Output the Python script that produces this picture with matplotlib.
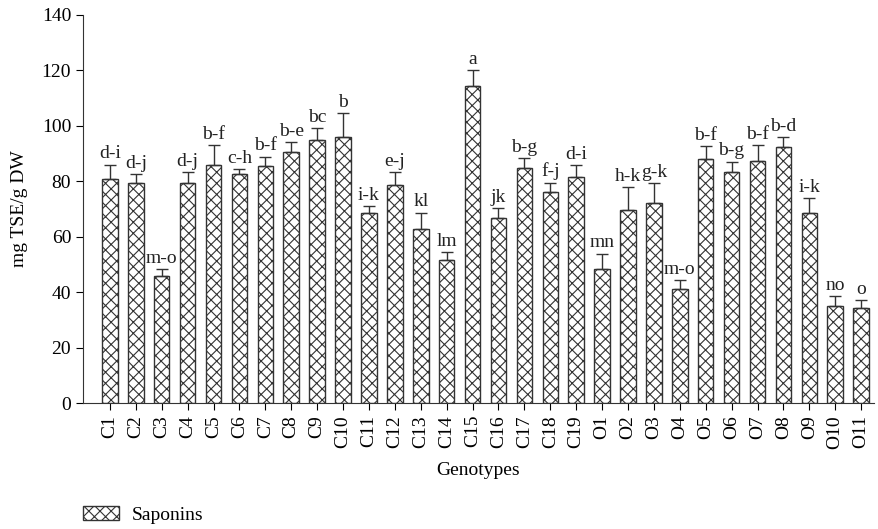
import numpy as np
import matplotlib
matplotlib.use("Agg")
import matplotlib.pyplot as plt
from matplotlib.patches import Patch

plt.rcParams['font.family'] = ['Liberation Serif', 'DejaVu Serif']
plt.rcParams['hatch.linewidth'] = 0.8

# Saponin content per genotype (mg TSE/g DW)
genotypes = ['C1', 'C2', 'C3', 'C4', 'C5', 'C6', 'C7', 'C8', 'C9', 'C10',
             'C11', 'C12', 'C13', 'C14', 'C15', 'C16', 'C17', 'C18', 'C19',
             'O1', 'O2', 'O3', 'O4', 'O5', 'O6', 'O7', 'O8', 'O9', 'O10', 'O11']
saponins = [80.7, 79.2, 45.8, 79.2, 85.9, 82.6, 85.6, 90.6, 95.0, 96.0,
            68.4, 78.5, 62.7, 51.7, 114.4, 66.8, 84.8, 76.1, 81.5,
            48.5, 69.6, 72.1, 41.2, 88.1, 83.4, 87.4, 92.5, 68.7, 35.1, 34.4]
errors = [5.3, 3.5, 2.6, 4.0, 7.0, 1.8, 3.3, 3.5, 4.2, 8.6,
          2.5, 4.8, 6.0, 2.8, 5.6, 3.5, 3.5, 3.4, 4.3,
          5.4, 8.4, 7.2, 3.1, 4.5, 3.7, 5.7, 3.4, 5.2, 3.5, 2.8]
letters = ['d-i', 'd-j', 'm-o', 'd-j', 'b-f', 'c-h', 'b-f', 'b-e', 'bc', 'b',
           'i-k', 'e-j', 'kl', 'lm', 'a', 'jk', 'b-g', 'f-j', 'd-i',
           'mn', 'h-k', 'g-k', 'm-o', 'b-f', 'b-g', 'b-f', 'b-d', 'i-k', 'no', 'o']

x = np.arange(len(genotypes))
fs = 14

fig = plt.figure(figsize=(8.79, 5.29), dpi=100)
ax = fig.add_axes([0.0944, 0.238, 0.9, 0.734])

ax.bar(x, saponins, width=0.6, color='white', edgecolor='#333333',
       linewidth=1.0, hatch='xxx')
ax.errorbar(x, saponins, yerr=[np.zeros(len(x)), errors], fmt='none',
            ecolor='#333333', elinewidth=1.0, capsize=4, capthick=1.0)

for xi, v, e, lab in zip(x, saponins, errors, letters):
    ax.text(xi, v + e + 0.8, lab, ha='center', va='bottom', fontsize=fs,
            color='#222222')

ax.set_xlim(-1.04, 29.5)
ax.set_ylim(0, 140)
ax.set_yticks(range(0, 141, 20))
ax.set_xticks(x)
ax.set_xticklabels(genotypes, rotation=90, fontsize=fs)
ax.tick_params(axis='y', labelsize=fs, direction='out', length=5)
ax.tick_params(axis='x', direction='out', length=5)
ax.set_ylabel('mg TSE/g DW', fontsize=fs, labelpad=10)
ax.set_xlabel('Genotypes', fontsize=fs, labelpad=10)

for side in ['top', 'right']:
    ax.spines[side].set_visible(False)
for side in ['left', 'bottom']:
    ax.spines[side].set_color('#333333')

handle = Patch(facecolor='white', edgecolor='#333333', hatch='xxx', label='Saponins')
fig.legend(handles=[handle], loc='center left', bbox_to_anchor=(0.0944, 0.026),
           frameon=False, fontsize=fs, handlelength=1.85, handleheight=0.72,
           handletextpad=0.67, borderpad=0, borderaxespad=0)

fig.savefig('out.png', dpi=100)
